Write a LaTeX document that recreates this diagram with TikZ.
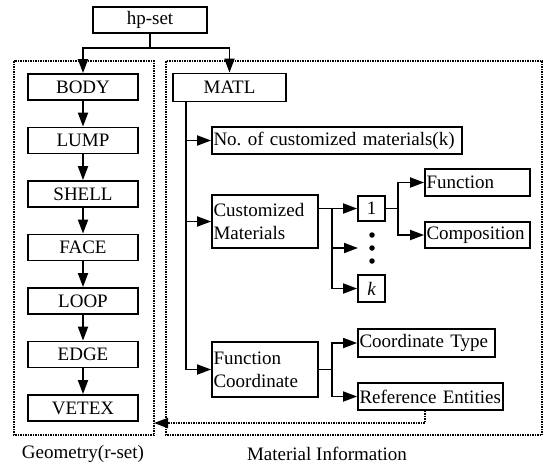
\documentclass[tikz,border=0pt]{standalone}
\usepackage{fontspec}
\setmainfont{Liberation Serif}
\usetikzlibrary{arrows.meta,calc}
\begin{document}
\begin{tikzpicture}[x=1pt,y=-1pt,
  every node/.style={font=\fontsize{19}{23}\selectfont},
  box/.style={draw,line width=1.8pt,inner sep=0pt,minimum height=26pt,anchor=center},
  lbox/.style={box,align=left,inner xsep=1.5pt},
  conn/.style={line width=1.8pt},
  tip/.style={-{Triangle[length=14pt,width=10pt]}},
  arr/.style={conn,tip},
  frame/.style={line width=1.9pt,dash pattern=on 1.5pt off 1pt},
  dotarrow/.style={frame,tip},
  dotmark/.style={circle,fill,inner sep=0pt,minimum size=5.5pt},
]
\useasboundingbox (0,0) rectangle (545,467);

% dotted group frames
\draw[frame] (14,61) rectangle (154,435);
\draw[frame] (166,61) rectangle (542,435);

% root
\node[box,minimum width=114pt] (hp) at (150,20) {hp-set};

% geometry chain
\foreach \n/\t/\y in {body/BODY/87, lump/LUMP/140.5, shell/SHELL/194,
                      face/FACE/247.5, loop/LOOP/301, edge/EDGE/354.5,
                      vetex/VETEX/408}
  \node[box,minimum width=110pt] (\n) at (83,\y) {\t};
\draw[arr] (body) -- (lump);
\draw[arr] (lump) -- (shell);
\draw[arr] (shell) -- (face);
\draw[arr] (face) -- (loop);
\draw[arr] (loop) -- (edge);
\draw[arr] (edge) -- (vetex);

% material information
\node[box,minimum width=113pt,minimum height=28pt] (matl) at (229.5,87.5) {MATL};
\node[lbox,text width=247pt,minimum height=27pt] (num) at (337,140.5) {\mbox{No.\ of customized materials(k)}};
\node[lbox,text width=103pt,minimum height=53pt] (cm) at (265,221.5) {Customized\\Materials};
\node[box,minimum width=27pt,minimum height=25pt] (one) at (371.5,208.5) {1};
\node[box,minimum width=27pt,minimum height=27pt] (kk) at (371.5,288.5) {\itshape k};
\node[dotmark] (d1) at (372,235) {};
\node[dotmark] (d2) at (372,248) {};
\node[dotmark] (d3) at (372,261) {};
\node[lbox,text width=102pt,minimum height=27pt] (fn) at (477.5,182.5) {Function};
\node[lbox,text width=102pt,minimum height=26pt] (comp) at (477.5,235) {\mbox{Composition}};
\node[lbox,text width=103pt,minimum height=55pt] (fc) at (265,369.5) {Function\\Coordinate};
\node[lbox,text width=134pt,minimum height=28pt] (ct) at (426.5,343) {\mbox{Coordinate Type}};
\node[lbox,text width=142pt,minimum height=27pt] (re) at (430.5,396.5) {\mbox{Reference Entities}};

% captions
\node (geo) at (83,454) {Geometry(r-set)};
\node (mat) at (327,454) {Material Information};

% root branches
\coordinate (hj) at (150,48);
\draw[conn] (hp.south) -- (hj);
\draw[arr] (hj) -| (body.north);
\draw[arr] (hj) -| (matl.north);

% MATL trunk
\coordinate (tk) at (186,370);
\draw[arr] (matl.south -| tk) |- (fc.west);
\draw[arr] (num.west -| tk) -- (num.west);
\draw[arr] (cm.west -| tk) -- (cm.west);

% customized materials fan-out
\coordinate (b1) at (332,0);
\coordinate (mid) at (358,248);
\draw[arr] (cm.east |- one) -- (one.west);
\draw[arr] (b1 |- one) |- (kk.west);
\draw[arr] (b1 |- mid) -- (mid);

% material 1 fan-out
\coordinate (b2) at (398,0);
\draw[conn] (one.east) -- (b2 |- one);
\draw[arr] (b2 |- one) |- (fn.west);
\draw[arr] (b2 |- one) |- (comp.west);

% function coordinate fan-out
\coordinate (b3) at (332,0);
\draw[conn] (fc.east) -- (b3 |- fc);
\draw[arr] (b3 |- fc) |- (ct.west);
\draw[arr] (b3 |- fc) |- (re.west);

% reference back to geometry
\coordinate (rb) at (425,423);
\coordinate (gt) at (154,423);
\draw[dotarrow] (re.south -| rb) -- (rb) -- (gt);
\end{tikzpicture}
\end{document}
